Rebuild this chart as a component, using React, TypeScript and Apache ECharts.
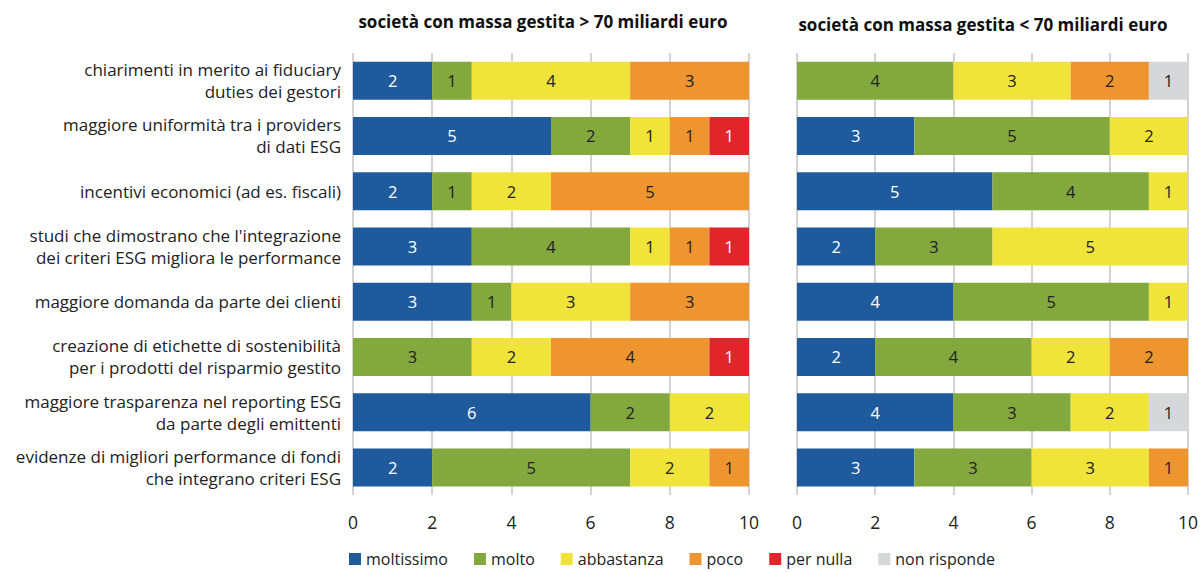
import React, { useEffect, useRef } from "react";
import * as echarts from "echarts";

const categories = [
  "chiarimenti in merito ai fiduciary\nduties dei gestori",
  "maggiore uniformità tra i providers\ndi dati ESG",
  "incentivi economici (ad es. fiscali)",
  "studi che dimostrano che l'integrazione\ndei criteri ESG migliora le performance",
  "maggiore domanda da parte dei clienti",
  "creazione di etichette di sostenibilità\nper i prodotti del risparmio gestito",
  "maggiore trasparenza nel reporting ESG\nda parte degli emittenti",
  "evidenze di migliori performance di fondi\nche integrano criteri ESG",
];

const seriesNames = ["moltissimo", "molto", "abbastanza", "poco", "per nulla", "non risponde"];
const colors = ["#1f5a9c", "#82a83e", "#f0e33a", "#ee9530", "#e0252b", "#d6d7d9"];
const labelColors = ["#ffffff", "#222222", "#222222", "#222222", "#ffffff", "#222222"];

const titleLeft = "società con massa gestita > 70 miliardi euro";
const titleRight = "società con massa gestita < 70 miliardi euro";

// > 70 miliardi: per category [moltissimo, molto, abbastanza, poco, per nulla, non risponde]
const bigMoltissimo = [2, 5, 2, 3, 3, 0, 6, 2];
const bigMolto = [1, 2, 1, 4, 1, 3, 2, 5];
const bigAbbastanza = [4, 1, 2, 1, 3, 2, 2, 2];
const bigPoco = [3, 1, 5, 1, 3, 4, 0, 1];
const bigPerNulla = [0, 1, 0, 1, 0, 1, 0, 0];
const bigNonRisponde = [0, 0, 0, 0, 0, 0, 0, 0];

// < 70 miliardi
const smallMoltissimo = [0, 3, 5, 2, 4, 2, 4, 3];
const smallMolto = [4, 5, 4, 3, 5, 4, 3, 3];
const smallAbbastanza = [3, 2, 1, 5, 1, 2, 2, 3];
const smallPoco = [2, 0, 0, 0, 0, 2, 0, 1];
const smallPerNulla = [0, 0, 0, 0, 0, 0, 0, 0];
const smallNonRisponde = [1, 0, 0, 0, 0, 0, 1, 0];

const bigData = [bigMoltissimo, bigMolto, bigAbbastanza, bigPoco, bigPerNulla, bigNonRisponde];
const smallData = [smallMoltissimo, smallMolto, smallAbbastanza, smallPoco, smallPerNulla, smallNonRisponde];

const FONT = "Open Sans";

export default function App() {
  const ref = useRef<HTMLDivElement>(null);
  useEffect(() => {
    document.body.style.margin = "0";
    const chart = echarts.init(ref.current!, null, { renderer: "svg" });
    const grids = [
      { left: 353, width: 396, top: 53, height: 442 },
      { left: 797, width: 392, top: 53, height: 442 },
    ];
    const xAxes = grids.map((_, i) => ({
      type: "value",
      gridIndex: i,
      min: 0,
      max: 10,
      interval: 2,
      axisLine: { show: false },
      axisTick: { show: false },
      splitLine: { show: true, lineStyle: { color: "#c4c4c4", width: 1.5 } },
      axisLabel: { fontFamily: FONT, fontSize: 17.5, color: "#222", margin: 18 },
    }));
    const yAxes = grids.map((_, i) => ({
      type: "category",
      gridIndex: i,
      data: categories,
      inverse: true,
      axisLine: { show: false },
      axisTick: { show: false },
      axisLabel: {
        show: i === 0,
        fontFamily: FONT,
        fontSize: 17,
        lineHeight: 22,
        color: "#222",
        align: "right",
        margin: 12,
      },
    }));
    const series: any[] = [];
    [bigData, smallData].forEach((dataset, gi) => {
      dataset.forEach((vals, si) => {
        series.push({
          type: "bar",
          name: seriesNames[si],
          stack: "s" + gi,
          xAxisIndex: gi,
          yAxisIndex: gi,
          barWidth: 38,
          itemStyle: { color: colors[si] },
          label: {
            show: true,
            position: "inside",
            fontFamily: FONT,
            fontSize: 16.5,
            color: labelColors[si],
            formatter: (p: any) => (p.value ? String(p.value) : ""),
          },
          data: vals.map((v) => (v === 0 ? null : v)),
        });
      });
    });
    chart.setOption({
      animation: false,
      title: [
        {
          text: titleLeft,
          left: 538,
          textAlign: "center",
          top: 8,
          textStyle: { fontFamily: FONT, fontSize: 17, fontWeight: "bold", color: "#111" },
        },
        {
          text: titleRight,
          left: 978,
          textAlign: "center",
          top: 11,
          textStyle: { fontFamily: FONT, fontSize: 17, fontWeight: "bold", color: "#111" },
        },
      ],
      legend: {
        data: seriesNames,
        bottom: 0,
        left: 344,
        itemWidth: 12,
        itemHeight: 12,
        itemGap: 26,
        icon: "rect",
        textStyle: { fontFamily: FONT, fontSize: 16, color: "#222" },
      },
      grid: grids,
      xAxis: xAxes,
      yAxis: yAxes,
      series,
    });
    return () => chart.dispose();
  }, []);
  return <div ref={ref} style={{ width: 1201, height: 572 }} />;
}
